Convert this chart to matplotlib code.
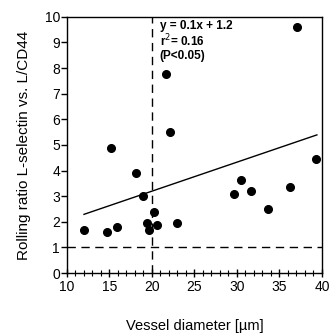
import matplotlib
matplotlib.use("Agg")
import matplotlib.pyplot as plt
from matplotlib.ticker import MultipleLocator

plt.rcParams['font.family'] = ['Liberation Sans', 'DejaVu Sans']

diameter = [12.0, 14.75, 15.2, 15.9, 18.1, 18.9, 19.45, 19.65, 20.24, 20.6,
            21.7, 22.1, 22.9, 29.65, 30.5, 31.6, 33.6, 36.2, 37.1, 39.25]
ratio = [1.66, 1.60, 4.89, 1.78, 3.92, 3.0, 1.96, 1.66, 2.38, 1.89,
         7.78, 5.52, 1.96, 3.07, 3.62, 3.19, 2.50, 3.34, 9.61, 4.45]
fit_x = [12.0, 39.4]
fit_y = [2.29, 5.39]
annot = "y = 0.1x + 1.2\nr$^2$= 0.16\n(P<0.05)"

fig = plt.figure(figsize=(3.31, 3.35), dpi=100)
ax = fig.add_axes([0.2024, 0.185, 0.7704, 0.765])

ax.axvline(20, color='black', lw=1.0, ls=(0, (6, 4)))
ax.axhline(1, color='black', lw=1.0, ls=(0, (6, 4)))
ax.plot(fit_x, fit_y, color='black', lw=1.0)
ax.plot(diameter, ratio, 'o', color='black', ms=5.5, mec='black')

ax.text(20.9, 9.88, annot, fontsize=8.5, fontweight='bold', va='top', ha='left',
        linespacing=1.05)

ax.set_xlim(10, 40)
ax.set_ylim(0, 10)
ax.xaxis.set_major_locator(MultipleLocator(5))
ax.xaxis.set_minor_locator(MultipleLocator(1))
ax.yaxis.set_major_locator(MultipleLocator(1))
ax.tick_params(axis='x', which='major', direction='inout', length=6, width=1, labelsize=10, pad=2)
ax.tick_params(axis='x', which='minor', direction='inout', length=4, width=0.8)
ax.tick_params(axis='y', which='major', direction='out', length=4, width=1, labelsize=10, pad=1)
for s in ax.spines.values():
    s.set_linewidth(1.0)

ax.set_xlabel("Vessel diameter [\u00b5m]", fontsize=10.5, labelpad=18)
ax.set_ylabel("Rolling ratio L-selectin vs. L/CD44", fontsize=11, labelpad=10)

fig.savefig("out.png", dpi=100)
